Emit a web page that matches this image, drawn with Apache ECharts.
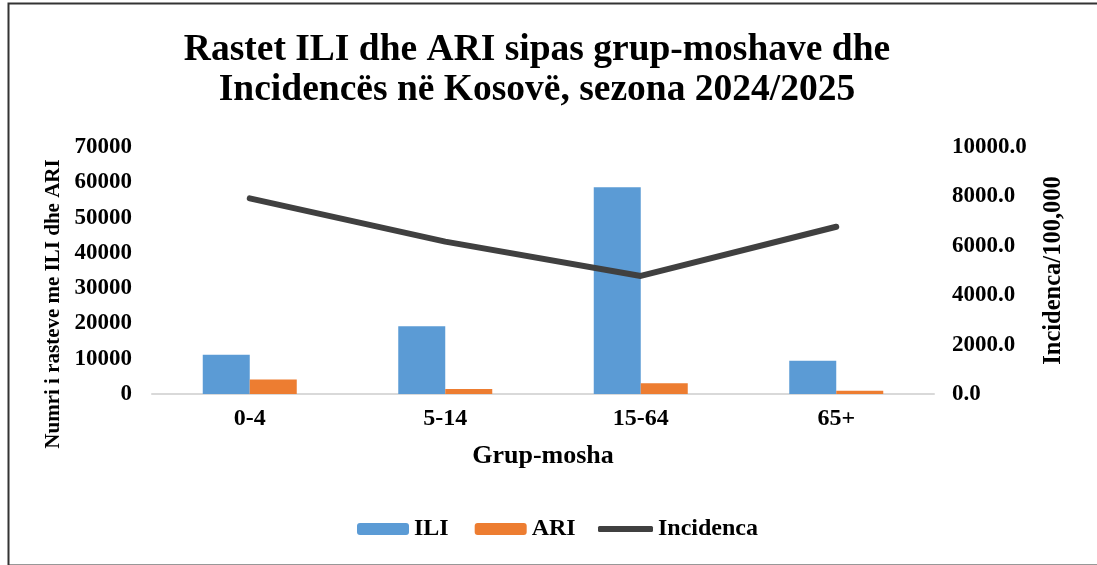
<!DOCTYPE html>
<html>
<head>
<meta charset="utf-8">
<script src="https://cdn.jsdelivr.net/npm/echarts@6/dist/echarts.min.js"></script>
<style>html,body{margin:0;padding:0;background:#fff}#c{width:1097px;height:565px}</style>
</head>
<body>
<div id="c"></div>
<script>
const categories = ['0-4', '5-14', '15-64', '65+'];
const iliValues = [11100, 19200, 58600, 9400];
const ariValues = [4100, 1450, 3050, 900];
const incidenceValues = [7920, 6170, 4780, 6770];
const leftTicks = {min: 0, max: 70000, interval: 10000};
const rightTicks = {min: 0, max: 10000, interval: 2000};

const FONT = "'Liberation Serif', 'Times New Roman', serif";
const legendText = {fontFamily: FONT, fontWeight: 'bold', fontSize: 24, color: '#000'};
const chart = echarts.init(document.getElementById('c'), null, {renderer: 'canvas'});
chart.setOption({
  backgroundColor: '#ffffff',
  animation: false,
  title: {
    text: 'Rastet ILI dhe ARI sipas grup-moshave dhe\nIncidencës në Kosovë, sezona 2024/2025',
    left: 532, textAlign: 'center', top: 25,
    textStyle: {fontFamily: FONT, fontWeight: 'bold', fontSize: 37.5, lineHeight: 40, color: '#000'}
  },
  legend: [{
    data: ['ILI', 'ARI'],
    left: 352, top: 512,
    itemWidth: 52, itemHeight: 12, itemGap: 26,
    textStyle: legendText
  }, {
    data: ['Incidenca'],
    left: 593, top: 512,
    icon: 'roundRect',
    itemWidth: 55, itemHeight: 6,
    textStyle: legendText
  }],
  grid: {left: 152, right: 163, top: 147, bottom: 171},
  xAxis: {
    type: 'category', data: categories,
    axisLine: {lineStyle: {color: '#d9d9d9', width: 2}},
    axisTick: {show: false},
    axisLabel: {fontFamily: FONT, fontWeight: 'bold', fontSize: 24, color: '#000', margin: 13},
    name: 'Grup-mosha', nameLocation: 'middle', nameGap: 49,
    nameTextStyle: {fontFamily: FONT, fontWeight: 'bold', fontSize: 26, color: '#000'}
  },
  yAxis: [{
    type: 'value', min: leftTicks.min, max: leftTicks.max, interval: leftTicks.interval,
    splitLine: {show: false}, axisLine: {show: false}, axisTick: {show: false},
    axisLabel: {fontFamily: FONT, fontWeight: 'bold', fontSize: 23, color: '#000', margin: 20,
      formatter: v => String(v)}
  }, {
    type: 'value', position: 'right', min: rightTicks.min, max: rightTicks.max, interval: rightTicks.interval,
    splitLine: {show: false}, axisLine: {show: false}, axisTick: {show: false},
    axisLabel: {fontFamily: FONT, fontWeight: 'bold', fontSize: 23, color: '#000', margin: 18,
      formatter: v => v.toFixed(1)},
    name: 'Incidenca/100,000', nameLocation: 'middle', nameGap: 107,
    nameTextStyle: {fontFamily: FONT, fontWeight: 'bold', fontSize: 24.5, color: '#000'}
  }],
  graphic: [{
    type: 'rect', left: 6, top: 1, shape: {width: 1100, height: 562},
    style: {fill: 'none', stroke: '#333', lineWidth: 2}, silent: true
  }, {
    type: 'text', x: 54, y: 304, rotation: Math.PI / 2,
    style: {text: 'Numri i rasteve me ILI dhe ARI', font: 'bold 21px ' + FONT,
      fill: '#000', align: 'center', verticalAlign: 'middle'}
  }],
  series: [{
    name: 'ILI', type: 'bar', data: iliValues, barWidth: 47, barGap: '0%',
    itemStyle: {color: '#5b9bd5'}
  }, {
    name: 'ARI', type: 'bar', data: ariValues, barWidth: 47,
    itemStyle: {color: '#ed7d31'}
  }, {
    name: 'Incidenca', type: 'line', yAxisIndex: 1, data: incidenceValues,
    symbol: 'none', z: 5,
    lineStyle: {color: '#404040', width: 6, cap: 'round', join: 'round'},
    itemStyle: {color: '#404040'}
  }]
});
</script>
</body>
</html>
